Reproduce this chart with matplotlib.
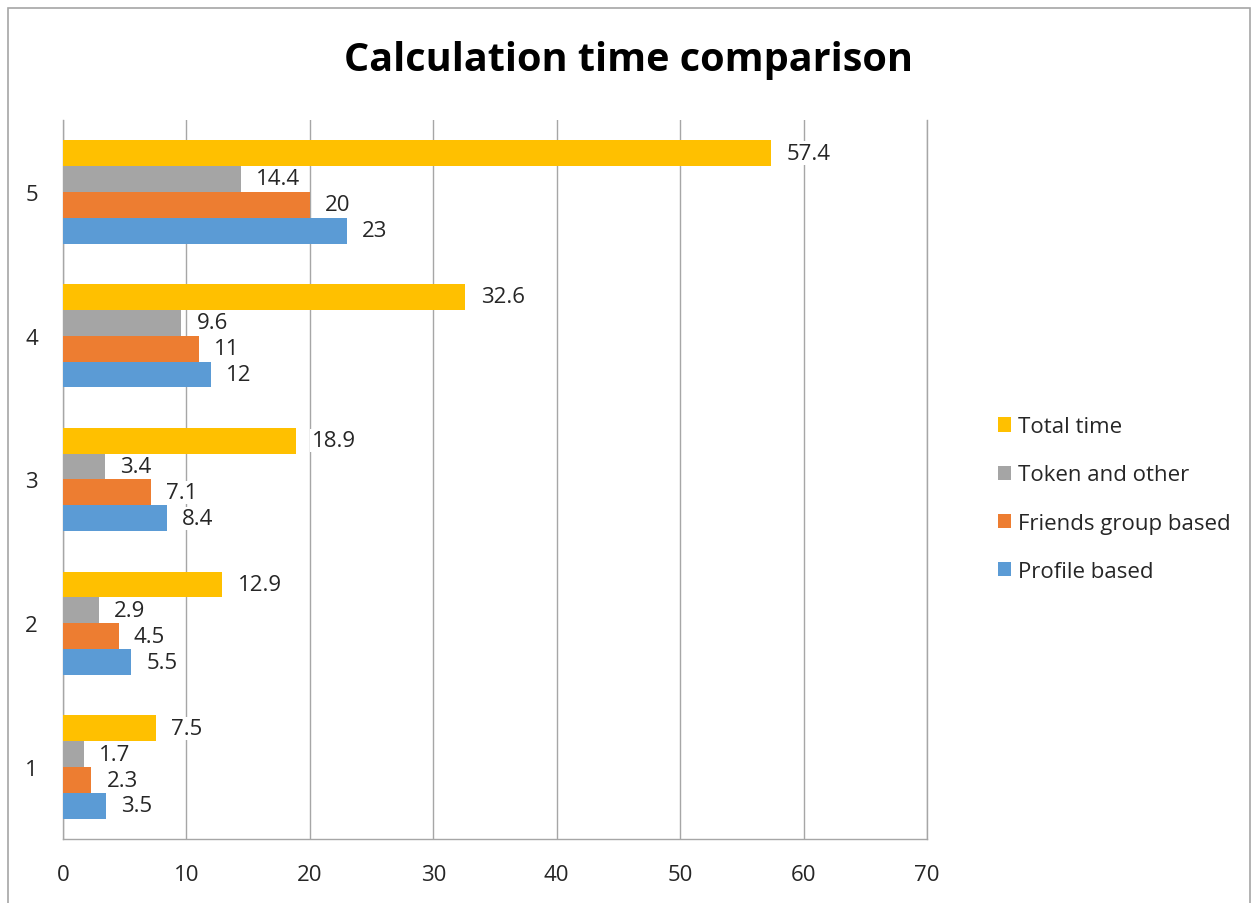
import matplotlib.pyplot as plt
from matplotlib.patches import Patch, Rectangle

# data
runs = [1, 2, 3, 4, 5]
series_names = ["Total time", "Token and other", "Friends group based", "Profile based"]
total_time = [7.5, 12.9, 18.9, 32.6, 57.4]
token_other = [1.7, 2.9, 3.4, 9.6, 14.4]
friends_group = [2.3, 4.5, 7.1, 11, 20]
profile_based = [3.5, 5.5, 8.4, 12, 23]
x_ticks = [0, 10, 20, 30, 40, 50, 60, 70]

colors = ["#FFC000", "#A5A5A5", "#ED7D31", "#5B9BD5"]
grid_col = "#A6A6A6"
txt_col = "#262626"

plt.rcParams["font.family"] = ["Open Sans", "DejaVu Sans"]

fig = plt.figure(figsize=(12.53, 9.04), dpi=100)
ax = fig.add_axes([63 / 1253, 64 / 904, 864 / 1253, 719 / 904])

# outer chart frame
fig.patches.append(Rectangle((8 / 1253, -0.02), 1242 / 1253, 0.02 + (904 - 9) / 904,
                             transform=fig.transFigure, fill=False,
                             edgecolor="#A6A6A6", linewidth=1.2, clip_on=False))

bar_h = 0.18
offsets = [0.27, 0.09, -0.09, -0.27]
all_series = [total_time, token_other, friends_group, profile_based]

for vals, off, col, name in zip(all_series, offsets, colors, series_names):
    ypos = [r + off for r in runs]
    ax.barh(ypos, vals, height=bar_h, color=col, label=name, zorder=3)
    for y, v in zip(ypos, vals):
        ax.annotate(f"{v:g}", xy=(v, y), xytext=(11, 0), textcoords="offset points",
                    ha="left", va="center", fontsize=16, color=txt_col, zorder=4,
                    bbox=dict(boxstyle="square,pad=0.05", fc="white", ec="none"))

ax.set_xlim(0, 70)
ax.set_ylim(0.5, 5.5)
ax.set_xticks(x_ticks)
ax.set_yticks(runs)
ax.tick_params(axis="both", length=0, labelsize=16, labelcolor=txt_col)
ax.tick_params(axis="x", pad=18)
ax.tick_params(axis="y", pad=18)
ax.grid(axis="x", color=grid_col, linewidth=1, zorder=0)
ax.set_axisbelow(True)
ax.spines["top"].set_visible(False)
for side in ["left", "bottom", "right"]:
    ax.spines[side].set_color(grid_col)
    ax.spines[side].set_linewidth(1)

fig.text(629 / 1253, 1 - 61 / 904, "Calculation time comparison", ha="center", va="center",
         fontsize=28.5, fontweight="bold", color="black")

handles = [Patch(facecolor=c, label=n) for c, n in zip(colors, series_names)]
fig.legend(handles=handles, loc="center left", bbox_to_anchor=(978 / 1253, 1 - 500 / 904),
           frameon=False, fontsize=16, labelcolor=txt_col, handlelength=0.6, handleheight=0.6,
           handletextpad=0.3, labelspacing=1.22)

fig.savefig("out.png", dpi=100)
